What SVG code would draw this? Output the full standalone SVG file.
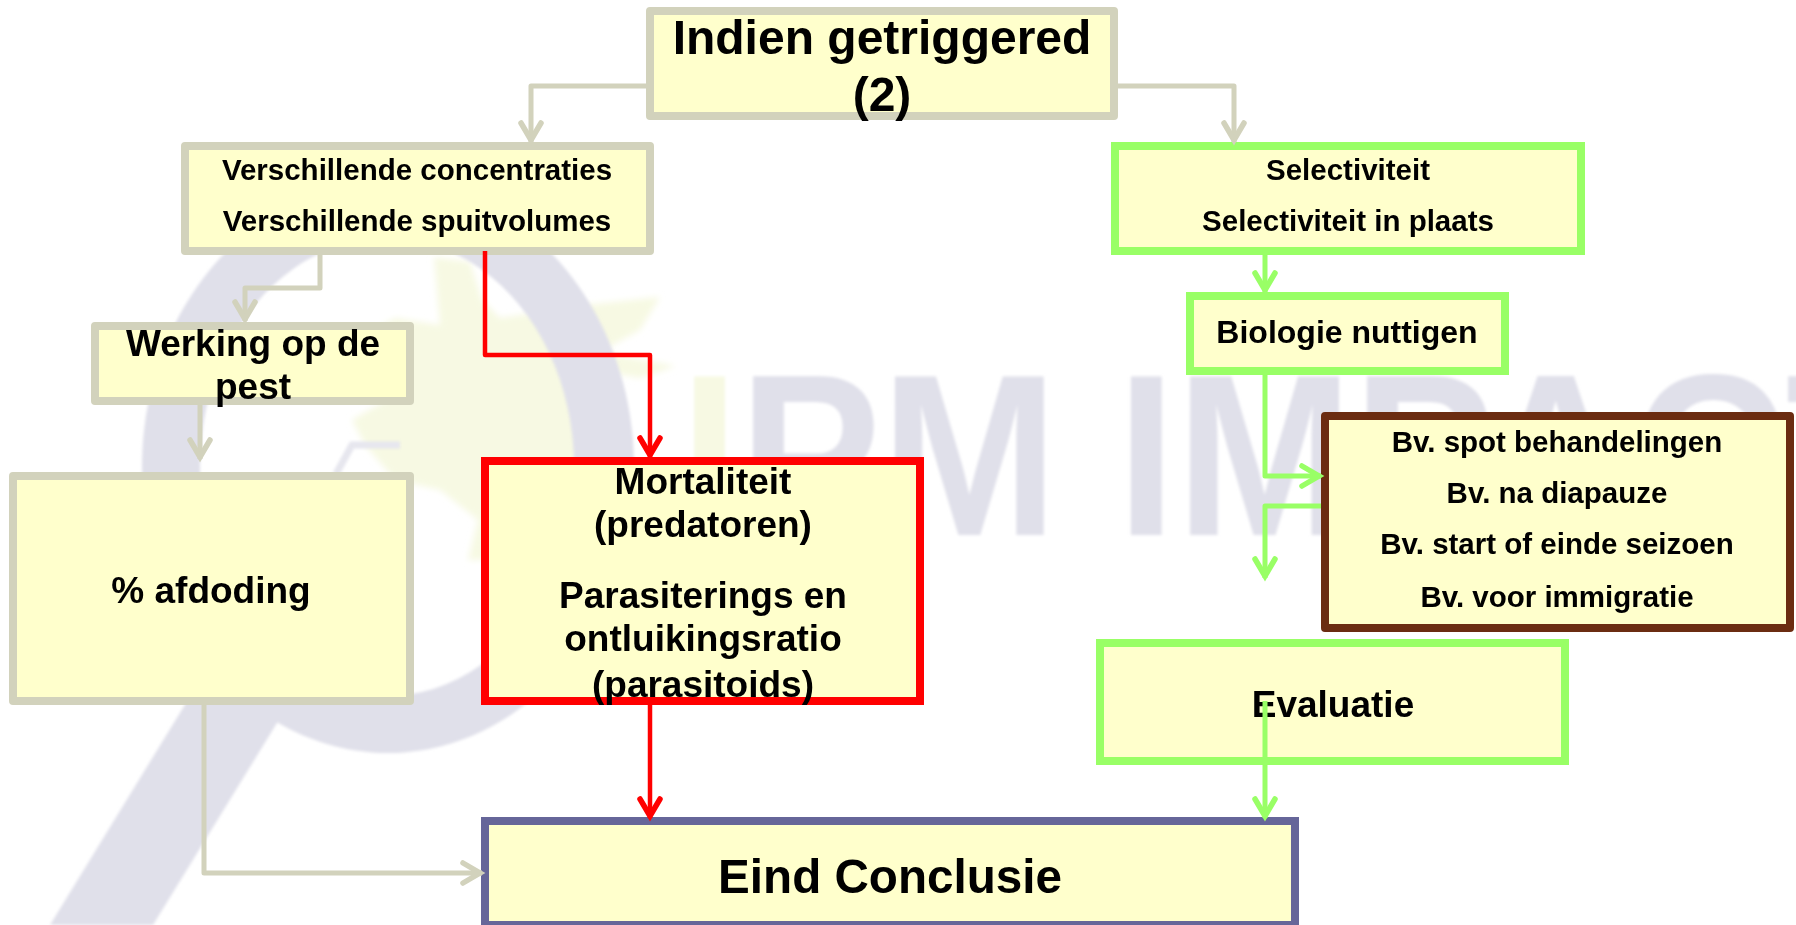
<svg xmlns="http://www.w3.org/2000/svg" width="1796" height="925" viewBox="0 0 1796 925">
<style>
text{font-family:"Liberation Sans",Arial,sans-serif;font-weight:700;fill:#000;text-anchor:middle}
.box{fill:#FFFFCC;stroke-width:8}
.beige{stroke:#D2D2BC;stroke-linejoin:round}
.green{stroke:#99FF66;stroke-linejoin:miter}
.red{stroke:#FF0000}
.purple{stroke:#666699}
.brown{stroke:#6B2C11;stroke-linejoin:round}
.f48{font-size:48px}.f36{font-size:37px}.f30{font-size:32px}.f28{font-size:29.5px}
.c{fill:none;stroke-linejoin:round}
.cb{stroke:#D2D2BC;stroke-width:5;marker-end:url(#ab)}
.cr{stroke:#FF0000;stroke-width:4.5;marker-end:url(#ar)}
.cg{stroke:#99FF66;stroke-width:5;marker-end:url(#ag)}
.ah{fill:none;stroke-width:5.5;stroke-linecap:round;stroke-linejoin:miter}
</style>
<defs>
<filter id="soft" x="-5%" y="-5%" width="110%" height="110%"><feGaussianBlur stdDeviation="1.5"/></filter>
<filter id="softer" x="-10%" y="-10%" width="120%" height="120%"><feGaussianBlur stdDeviation="3"/></filter>
<marker id="ab" markerUnits="userSpaceOnUse" markerWidth="30" markerHeight="30" refX="0" refY="0" orient="auto" overflow="visible"><path class="ah" stroke="#D2D2BC" d="M-19,-10L-2,0L-19,10"/></marker>
<marker id="ar" markerUnits="userSpaceOnUse" markerWidth="30" markerHeight="30" refX="0" refY="0" orient="auto" overflow="visible"><path class="ah" stroke="#FF0000" d="M-19,-10L-2,0L-19,10"/></marker>
<marker id="ag" markerUnits="userSpaceOnUse" markerWidth="30" markerHeight="30" refX="0" refY="0" orient="auto" overflow="visible"><path class="ah" stroke="#99FF66" d="M-19,-10L-2,0L-19,10"/></marker>
</defs>
<rect width="1796" height="925" fill="#FFFFFF"/>
<g id="watermark">
<path fill="#F7F9E3" filter="url(#softer)" d="M434,257L470,262L482,300L500,318L585,305L660,297L640,330L600,352L676,366L640,378L605,372L600,420L570,470L520,500L495,560L468,560L478,520L440,490L395,480L365,445L352,420L395,395L350,345L395,318L440,325Z"/>
<g filter="url(#soft)">
<path fill="#E0E0EA" fill-rule="evenodd" d="M388,181a246,286 0 1,0 .01,0ZM387,238a187,229 0 1,1 -.01,0Z"/>
<path fill="#E0E0EA" d="M50,925L186,703L250,590L300,590L300,680L277,723L153,925Z"/>
<path fill="none" stroke="#E6E6EE" stroke-width="7" d="M400,445H352L336,474"/>
<text x="0" y="535" transform="translate(680,0) scale(.924,1)" style="text-anchor:start;font-size:230px;fill:#E0E0EA"><tspan style="fill:#F7F9E3">I</tspan>PM IMPACT</text>
</g>
</g>
<g id="node-top"><rect class="box beige" x="650" y="11" width="464" height="105"/><text class="f48" x="882" y="54">Indien getriggered</text><text class="f48" x="882" y="111">(2)</text></g>
<g id="node-verschillende"><rect class="box beige" x="185" y="146" width="465" height="105"/><text class="f28" x="417" y="180">Verschillende concentraties</text><text class="f28" x="417" y="231">Verschillende spuitvolumes</text></g>
<g id="node-selectiviteit"><rect class="box green" x="1115" y="146" width="466" height="105"/><text class="f28" x="1348" y="180">Selectiviteit</text><text class="f28" x="1348" y="231">Selectiviteit in plaats</text></g>
<g id="node-biologie"><rect class="box green" x="1190" y="296" width="315" height="75"/><text class="f30" x="1347" y="343">Biologie nuttigen</text></g>
<g id="node-werking"><rect class="box beige" x="95" y="326" width="315" height="75"/><text class="f36" x="253" y="356">Werking op de</text><text class="f36" x="253" y="399">pest</text></g>
<g id="node-afdoding"><rect class="box beige" x="13" y="476" width="397" height="225"/><text class="f36" x="211" y="603">% afdoding</text></g>
<g id="node-mortaliteit"><rect class="box red" x="485" y="461" width="435" height="240"/><text class="f36" x="703" y="494">Mortaliteit</text><text class="f36" x="703" y="537">(predatoren)</text><text class="f36" x="703" y="608">Parasiterings en</text><text class="f36" x="703" y="651">ontluikingsratio</text><text class="f36" x="703" y="697">(parasitoids)</text></g>
<g id="node-bv"><rect class="box brown" x="1325" y="416" width="465" height="212"/><text class="f28" x="1557" y="452">Bv. spot behandelingen</text><text class="f28" x="1557" y="503">Bv. na diapauze</text><text class="f28" x="1557" y="554">Bv. start of einde seizoen</text><text class="f28" x="1557" y="607">Bv. voor immigratie</text></g>
<g id="node-evaluatie"><rect class="box green" x="1100" y="643" width="465" height="118"/><text class="f36" x="1333" y="717">Evaluatie</text></g>
<g id="node-eind"><rect class="box purple" x="485" y="821" width="810" height="104"/><text class="f48" x="890" y="893" style="font-size:47.6px">Eind Conclusie</text></g>
<g id="connectors">
<path class="c cb" d="M646,86H531V142"/>
<path class="c cb" d="M1118,86H1234V142"/>
<path class="c cb" d="M320,255V288H245V321"/>
<path class="c cb" d="M200,405V459"/>
<path class="c cb" d="M204,705V873H482"/>
<path class="c cr" d="M485,251V355H650V457"/>
<path class="c cr" d="M650,705V818"/>
<path class="c cg" d="M1265,255V292"/>
<path class="c cg" d="M1265,375V476H1321"/>
<path class="c cg" d="M1321,506H1265V578"/>
<path class="c cg" d="M1265,701V818"/>
</g>
</svg>
